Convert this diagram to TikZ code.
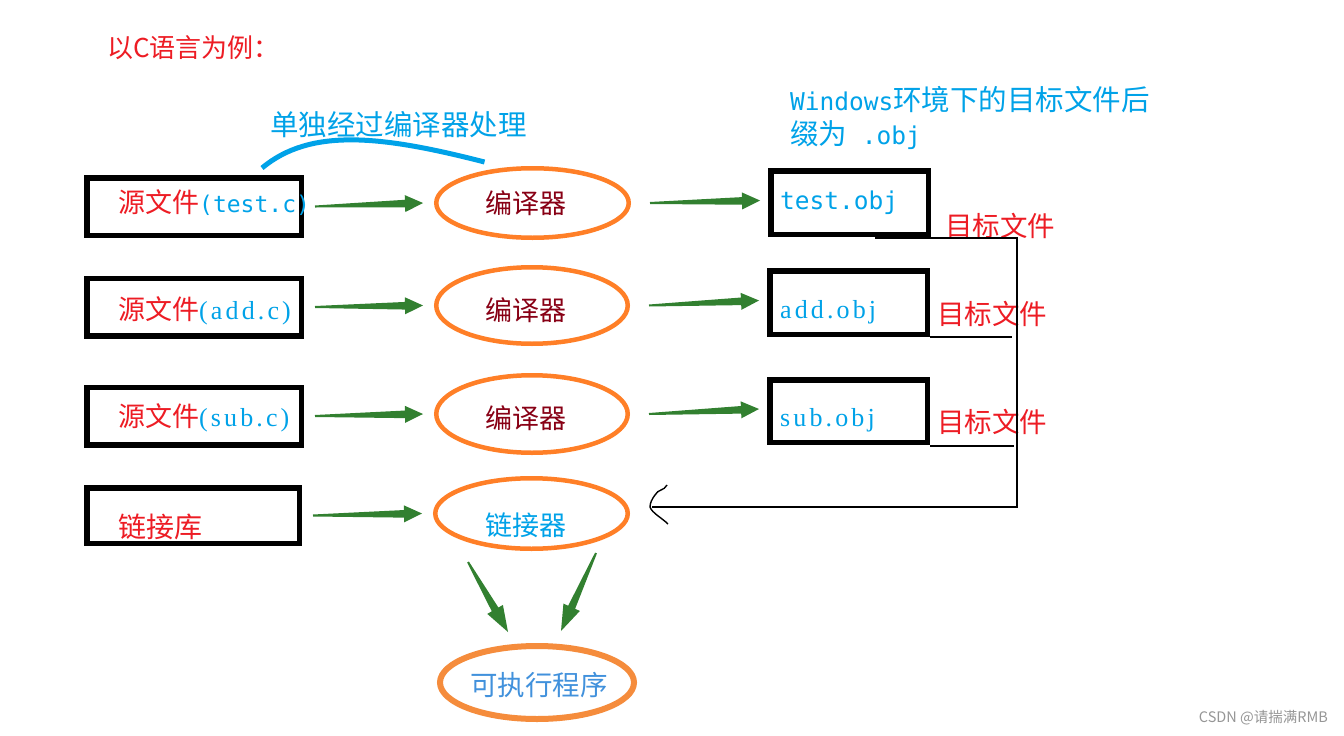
\documentclass[tikz,border=0pt]{standalone}
\usepackage{fontspec}
\newfontfamily\cjk{Noto Sans CJK SC}
\newfontfamily\mono{DejaVu Sans Mono}
\newfontfamily\ser[LetterSpace=12]{Liberation Serif}
\usetikzlibrary{calc,arrows.meta,shapes.geometric}
\definecolor{tred}{RGB}{237,28,36}
\definecolor{tblue}{RGB}{0,162,232}
\definecolor{tdred}{RGB}{136,0,21}
\definecolor{torange}{RGB}{255,127,39}
\definecolor{torange2}{RGB}{245,140,60}
\definecolor{tgreen}{RGB}{50,128,48}
\definecolor{tblue2}{RGB}{65,145,220}
\definecolor{tgray}{RGB}{150,150,150}
\newcommand\garrow[4]{%
  \path ($(#2)!#3!(#1)$) coordinate (gh);
  \fill[tgreen] ($(#1)!1pt!90:(#2)$) -- ($(gh)!3.8pt!90:(#2)$) -- ($(gh)!#4!90:(#2)$) -- (#2)
     -- ($(gh)!#4!-90:(#2)$) -- ($(gh)!3.8pt!-90:(#2)$) -- ($(#1)!1pt!-90:(#2)$) -- cycle;}
\begin{document}
\begin{tikzpicture}[x=1pt,y=-1pt,
  srcbox/.style={draw=black,line width=5.5pt,minimum width=214.5pt,minimum height=57.5pt,inner sep=0pt},
  objbox/.style={draw=black,line width=5.5pt,minimum width=157.5pt,minimum height=63.5pt,inner sep=0pt},
  proc/.style={draw=torange,line width=4.5pt,ellipse,minimum width=192.5pt,minimum height=71.5pt,inner sep=0pt},
  lbl/.style={inner sep=0pt,anchor=west},
  tag/.style={inner sep=0pt,anchor=west,text=tred,font=\cjk\fontsize{27.5}{30}\selectfont},
  cn/.style={font=\cjk\fontsize{27}{30}\selectfont}]
\useasboundingbox[fill=white] (0,0) rectangle (1344,736);

% title and notes
\node[lbl,text=tred,font=\cjk\fontsize{26}{30}\selectfont] (title) at (107,48) {以C语言为例：};
\node[lbl,text=tblue,font=\cjk\fontsize{28.5}{30}\selectfont] (note1) at (270,125) {单独经过编译器处理};
\node[lbl,text=tblue] (note2a) at (790,100) {{\mono\fontsize{24.5}{30}\selectfont Windows}{\cjk\fontsize{28.5}{30}\selectfont 环境下的目标文件后}};
\node[lbl,text=tblue] (note2b) at (790,135) {{\cjk\fontsize{28.5}{30}\selectfont 缀为}{\mono\fontsize{24.5}{30}\selectfont\ .obj}};

% source boxes
\node[srcbox] (s1) at (194,206.5) {};
\node[srcbox] (s2) at (194,307) {};
\node[srcbox] (s3) at (194,416) {};
\node[srcbox,minimum width=212.5pt,minimum height=55.5pt] (s4) at (193,515.5) {};
\node[lbl] (t1) at (118,203) {{\cjk\fontsize{27}{30}\selectfont\color{tred}源文件}{\mono\fontsize{23}{30}\selectfont\color{tblue}(test.c)}};
\node[lbl] (t2) at (118,311) {{\cjk\fontsize{27}{30}\selectfont\color{tred}源文件}{\ser\fontsize{26}{30}\selectfont\color{tblue}(add.c)}};
\node[lbl] (t3) at (118,418) {{\cjk\fontsize{27}{30}\selectfont\color{tred}源文件}{\ser\fontsize{26}{30}\selectfont\color{tblue}(sub.c)}};
\node[lbl,text=tred,font=\cjk\fontsize{28}{30}\selectfont] (t4) at (118,527) {链接库};

% processors
\node[proc,minimum height=69.5pt] (c1) at (532.5,203) {};
\node[proc,minimum width=191.5pt,minimum height=76.5pt] (c2) at (532,305.5) {};
\node[proc,minimum width=191.5pt,minimum height=77.5pt] (c3) at (532,414) {};
\node[proc,minimum height=70.5pt] (c4) at (531.5,513.5) {};
\node[proc,draw=torange2,line width=6pt,minimum width=194pt,minimum height=73pt] (c5) at (537,682.5) {};
\node[cn,text=tdred] (l1) at (526,203) {编译器};
\node[cn,text=tdred] (l2) at (526,310) {编译器};
\node[cn,text=tdred] (l3) at (526,418) {编译器};
\node[cn,text=tblue] (l4) at (526,525) {链接器};
\node[cn,text=tblue2,font=\cjk\fontsize{27.5}{30}\selectfont] (l5) at (539,685) {可执行程序};

% object boxes
\node[objbox] (o1) at (849.5,202.5) {};
\node[objbox] (o2) at (848.5,302.5) {};
\node[objbox,minimum height=62.5pt] (o3) at (848.5,411) {};
\node[lbl,text=tblue,font=\mono\fontsize{24.5}{30}\selectfont] (ot1) at (780,203) {test.obj};
\node[lbl,text=tblue,font=\ser\fontsize{26}{30}\selectfont] (ot2) at (780,312) {add.obj};
\node[lbl,text=tblue,font=\ser\fontsize{26}{30}\selectfont] (ot3) at (780,420) {sub.obj};
\node[tag] (g1) at (945,226) {目标文件};
\node[tag] (g2) at (937,314) {目标文件};
\node[tag] (g3) at (937,422) {目标文件};

% green arrows
\foreach \r in {1,2,3,4}{
  \path ($(s\r.east)+(11,0)$) coordinate (as\r) ($(c\r.west)+(-11,0)$) coordinate (ae\r);
  \garrow{as\r}{ae\r}{18pt}{8.5pt}
}
\foreach \r in {1,2,3}{
  \path ($(c\r.east)+(19,0)$) coordinate (bs\r) ($(o\r.west)+(-8,-2)$) coordinate (be\r);
  \garrow{bs\r}{be\r}{18pt}{8.5pt}
}
\path (468,562) coordinate (ds1) ($(c5.north)+(-29,-11)$) coordinate (de1);
\path (596,553) coordinate (ds2) ($(c5.north)+(24,-12)$) coordinate (de2);
\garrow{ds1}{de1}{26pt}{9pt}
\garrow{ds2}{de2}{26pt}{9pt}

% blue arc
\coordinate (arcA) at ($(s1.north)+(68,-7)$);
\coordinate (arcB) at ($(c1.north)+(-48,-4)$);
\draw[tblue,line width=5pt] (arcA) .. controls +(48,-40) and +(-105,-27) .. (arcB);

% collection lines
\coordinate (j1) at (1017,238);
\coordinate (j2) at (1017,507);
\coordinate (tip) at ($(c4.east)+(22,-6.5)$);
\draw[black,line width=2pt] ($(o1.south east)+(-56,1)$) -- (j1) -- (j2) -- (tip);
\draw[black,line width=1.8pt] (o2.south east) -- ($(j1)+(-5,99)$);
\draw[black,line width=1.8pt] ($(o3.south east)+(0,1)$) -- ($(j1)+(-3,208)$);
\draw[black,line width=1.4pt] ($(tip)+(15,-22)$) .. controls +(-3,6) and +(3,-6) .. ($(tip)+(3,-12)$)
   .. controls +(-3,4) and +(0,-4) .. ($(tip)+(-2,0)$) .. controls +(2,6) and +(-6,-6) .. ($(tip)+(16,17)$);

% watermark
\node[anchor=east,inner sep=0pt,text=tgray,font=\cjk\fontsize{14.5}{16}\selectfont] (wm) at (1328,718) {CSDN @请揣满RMB};
\end{tikzpicture}
\end{document}
